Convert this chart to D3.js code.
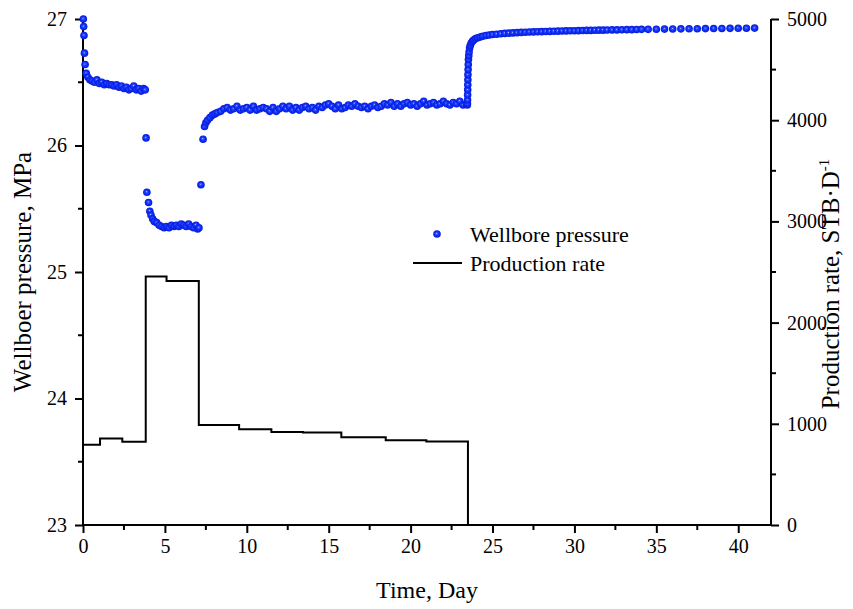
<!DOCTYPE html>
<html>
<head>
<meta charset="utf-8">
<script src="https://cdn.jsdelivr.net/npm/d3@7"></script>
<style>
	body	{ margin:0; background:#fff; }
	svg	{ display:block; }
</style>
</head>
<body>
<div id="chart"></div>
<script>
// wellbore pressure samples, MPa
var pressureDays = [
	0.02,0.04,0.06,0.09,0.13,0.2,0.3,0.42,0.55,0.7,0.85,1.0,1.15,1.3,1.45,1.6,1.75,1.9,2.05,2.2,2.35,2.5,2.65,2.8,2.95,3.1,3.25,3.4,3.55,3.7,3.8,
	3.85,3.9,4.0,4.08,4.15,4.25,4.35,4.5,4.65,4.8,4.95,5.1,5.25,5.4,5.55,5.7,5.85,6.0,6.15,6.3,6.45,6.6,6.75,6.9,7.0,
	7.08,7.2,7.33,7.42,7.5,7.6,7.75,7.9,8.05,
	8.2,8.4,8.6,8.8,9.0,9.2,9.4,9.6,9.8,10.0,10.2,10.4,10.6,10.8,11.0,11.2,11.4,11.6,11.8,12.0,12.2,12.4,12.6,12.8,13.0,13.2,13.4,13.6,13.8,14.0,
	14.2,14.4,14.6,14.8,15.0,15.2,15.4,15.6,15.8,16.0,16.2,16.4,16.6,16.8,17.0,17.2,17.4,17.6,17.8,18.0,18.2,18.4,18.6,18.8,19.0,19.2,19.4,19.6,19.8,
	20.0,20.2,20.4,20.6,20.8,21.0,21.2,21.4,21.6,21.8,22.0,22.2,22.4,22.6,22.8,23.0,23.2,23.4,
	23.46,23.47,23.475,23.48,23.485,23.49,23.495,23.5,23.51,23.52,23.53,23.55,23.57,23.6,23.64,23.7,23.78,23.87,23.97,
	24.1,24.25,24.4,24.6,24.8,25.0,25.25,25.5,25.75,26.0,26.25,26.5,26.75,27.0,27.25,27.5,27.75,28.0,28.25,28.5,28.75,29.0,29.25,29.5,29.75,
	30.0,30.25,30.5,30.75,31.0,31.25,31.5,31.75,32.0,32.3,32.6,32.9,33.2,33.5,33.8,34.1,34.5,
	35.0,35.5,36.0,36.5,37.0,37.5,38.0,38.5,39.0,39.5,40.0,40.5,41.0
];
var pressureMPa = [
	27.0,26.94,26.87,26.73,26.64,26.57,26.54,26.52,26.51,26.50,26.52,26.49,26.50,26.48,26.49,26.48,26.48,26.47,26.48,26.46,26.47,26.45,26.46,26.44,26.45,26.47,26.44,26.45,26.43,26.45,26.44,
	26.06,25.63,25.55,25.48,25.45,25.42,25.40,25.39,25.37,25.36,25.35,25.36,25.35,25.37,25.36,25.37,25.36,25.38,25.37,25.36,25.38,25.36,25.35,25.37,25.34,25.35,
	25.69,26.05,26.15,26.18,26.20,26.22,26.24,26.25,26.26,
	26.27,26.29,26.30,26.28,26.29,26.31,26.28,26.29,26.30,26.28,26.31,26.28,26.29,26.30,26.29,26.27,26.30,26.27,26.29,26.31,26.29,26.31,26.28,26.30,26.28,26.30,26.31,26.29,26.30,26.28,
	26.31,26.30,26.32,26.33,26.31,26.29,26.32,26.29,26.30,26.32,26.31,26.33,26.31,26.30,26.31,26.29,26.31,26.32,26.30,26.31,26.33,26.32,26.34,26.31,26.33,26.31,26.33,26.34,26.32,
	26.33,26.31,26.33,26.35,26.32,26.33,26.34,26.32,26.33,26.35,26.33,26.32,26.34,26.33,26.35,26.32,26.33,26.32,
	26.33,26.36,26.40,26.44,26.48,26.52,26.56,26.60,26.64,26.68,26.71,26.74,26.77,26.79,26.81,26.825,26.835,26.845,26.852,
	26.858,26.864,26.869,26.873,26.877,26.880,26.883,26.886,26.888,26.890,26.892,26.894,26.895,26.897,26.898,26.899,26.900,26.901,26.902,26.903,26.904,26.905,26.906,26.907,26.907,
	26.908,26.909,26.910,26.910,26.911,26.912,26.912,26.913,26.914,26.914,26.915,26.916,26.916,26.917,26.918,26.918,26.919,
	26.920,26.921,26.922,26.923,26.923,26.924,26.925,26.925,26.926,26.927,26.927,26.928,26.929
];
// production rate, piecewise constant from each start day, STB/D
var rateStartDays	= [0, 1.04, 2.4, 3.83, 5.1, 7.07, 9.53, 11.5, 13.43, 15.77, 18.48, 20.96, 23.5, 42];
var rateValues		= [792, 855, 822, 2455, 2410, 987, 947, 918, 914, 868, 838, 825, 0, 0];
var xTicks	= [0, 5, 10, 15, 20, 25, 30, 35, 40];
var yLeftTicks	= [23, 24, 25, 26, 27];
var yRightTicks	= [0, 1000, 2000, 3000, 4000, 5000];

var W = 853, H = 609, margin = { top:19, right:82, bottom:84, left:83 };
var w = W - margin.left - margin.right, h = H - margin.top - margin.bottom;
var FONT = 'Liberation Serif';

var svg = d3.select('#chart').append('svg').attr('width', W).attr('height', H).attr('font-family', FONT);
var grad = svg.append('defs').append('radialGradient').attr('id','ball')
	.attr('cx','50%').attr('cy','50%').attr('r','50%').attr('fx','45%').attr('fy','42%');
grad.append('stop').attr('offset','0%').attr('stop-color','#c9d3ff');
grad.append('stop').attr('offset','18%').attr('stop-color','#3d5cff');
grad.append('stop').attr('offset','50%').attr('stop-color','#1233ff');
grad.append('stop').attr('offset','100%').attr('stop-color','#061ad6');

var g = svg.append('g').attr('transform','translate('+margin.left+','+margin.top+')');

var x	= d3.scaleLinear().domain([0, 42]).range([0, w]);
var yP	= d3.scaleLinear().domain([23, 27]).range([h, 0]);
var yQ	= d3.scaleLinear().domain([0, 5000]).range([h, 0]);

// rate step line
var rate = rateStartDays.map(function(d,i){ return { t:d, q:rateValues[i] }; });
g.append('path').datum(rate)
	.attr('fill','none').attr('stroke','#000').attr('stroke-width',2)
	.attr('d', d3.line().curve(d3.curveStepAfter).x(function(d){return x(d.t)}).y(function(d){return yQ(d.q)}));

// axes, minor ticks added by hand
function styleAxis(a) {
	a.attr('font-family', FONT).attr('font-size', 20);
	a.selectAll('path, line').attr('stroke','#000').attr('stroke-width',2);
	a.selectAll('text').attr('font-family', FONT).attr('font-size', 20).attr('fill','#000');
}
var fmt = d3.format('d');
var xa = g.append('g').attr('transform','translate(0,'+h+')')
	.call(d3.axisBottom(x).tickValues(xTicks).tickFormat(fmt).tickSize(8).tickSizeOuter(0).tickPadding(6));
xa.selectAll('.minor').data(d3.range(2.5, 42, 5)).enter().append('line').attr('class','minor')
	.attr('x1',function(d){return x(d)}).attr('x2',function(d){return x(d)}).attr('y2',5);
xa.select('.domain').attr('d','M0,0H'+w);
styleAxis(xa);

var yl = g.append('g')
	.call(d3.axisLeft(yP).tickValues(yLeftTicks).tickFormat(fmt).tickSize(8).tickSizeOuter(0).tickPadding(8));
yl.selectAll('.minor').data([23.5, 24.5, 25.5, 26.5]).enter().append('line').attr('class','minor')
	.attr('y1',function(d){return yP(d)}).attr('y2',function(d){return yP(d)}).attr('x2',-5);
yl.select('.domain').attr('d','M0,0V'+h);
styleAxis(yl);

var yr = g.append('g').attr('transform','translate('+w+',0)')
	.call(d3.axisRight(yQ).tickValues(yRightTicks).tickFormat(fmt).tickSize(8).tickSizeOuter(0).tickPadding(8));
yr.selectAll('.minor').data([500, 1500, 2500, 3500, 4500]).enter().append('line').attr('class','minor')
	.attr('y1',function(d){return yQ(d)}).attr('y2',function(d){return yQ(d)}).attr('x2',5);
yr.select('.domain').attr('d','M0,0V'+h);
styleAxis(yr);

// pressure balls
var pts = pressureDays.map(function(d,i){ return { t:d, p:pressureMPa[i] }; });
g.append('g').selectAll('circle').data(pts).enter().append('circle')
	.attr('cx',function(d){return x(d.t)}).attr('cy',function(d){return yP(d.p)})
	.attr('r',3.8).attr('fill','url(#ball)');

// titles
svg.append('text').attr('x', margin.left + w/2).attr('y', 598).attr('text-anchor','middle')
	.attr('font-size',24).text('Time, Day');
svg.append('text').attr('transform','translate(31,'+(margin.top + h/2)+') rotate(-90)').attr('text-anchor','middle')
	.attr('font-size',25).text('Wellboer pressure, MPa');
var rt = svg.append('text').attr('transform','translate(839,'+(margin.top + h/2 + 12)+') rotate(-90)').attr('text-anchor','middle')
	.attr('font-size',25);
rt.append('tspan').text('Production rate, STB\u00b7D');
rt.append('tspan').attr('dy',-10).attr('font-size',15).text('-1');

// legend
var lg = svg.append('g');
lg.append('circle').attr('cx',437).attr('cy',234).attr('r',3.8).attr('fill','url(#ball)');
lg.append('text').attr('x',470).attr('y',242).attr('font-size',22).text('Wellbore pressure');
lg.append('line').attr('x1',413).attr('x2',462).attr('y1',263).attr('y2',263).attr('stroke','#000').attr('stroke-width',2);
lg.append('text').attr('x',470).attr('y',271).attr('font-size',22).text('Production rate');
</script>
</body>
</html>
